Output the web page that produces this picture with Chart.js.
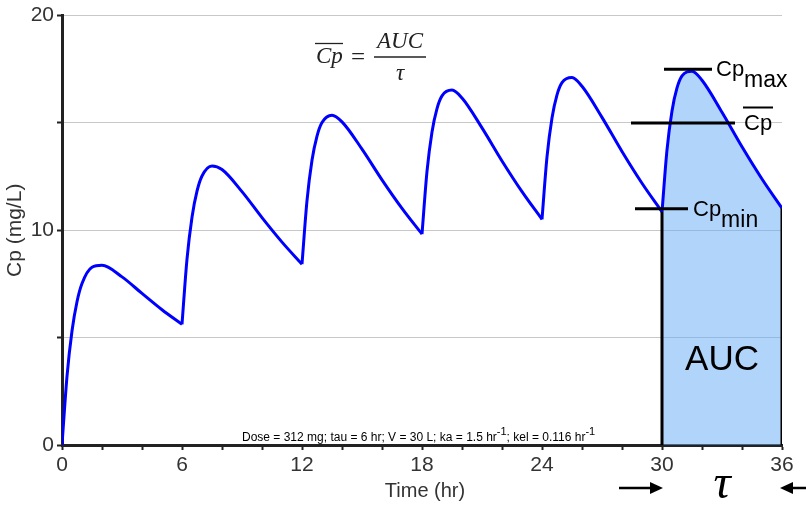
<!DOCTYPE html>
<html>
<head>
<meta charset="utf-8">
<script src="https://cdn.jsdelivr.net/npm/chart.js@4.4.1/dist/chart.umd.min.js"></script>
<style>
  html, body { margin: 0; padding: 0; background: #fff; }
  #wrap { width: 806px; height: 519px; }
</style>
</head>
<body>
<div id="wrap"><canvas id="cpChart" width="806" height="519"></canvas></div>
<script>
// DATA
const doseTimes = [0, 6, 12, 18, 24, 30];
const hoursAfterDose = [0, 0.25, 0.5, 0.75, 1, 1.5, 2, 3, 4, 5, 6];
const cpDose1 = [0, 3.20, 5.31, 6.67, 7.52, 8.28, 8.37, 7.83, 7.06, 6.30, 5.62];
const cpDose2 = [5.62, 8.66, 10.61, 11.82, 12.53, 13.00, 12.83, 11.80, 10.59, 9.45, 8.42];
const cpDose3 = [8.42, 11.38, 13.26, 14.39, 15.02, 15.36, 15.05, 13.78, 12.35, 11.02, 9.82];
const cpDose4 = [9.82, 12.74, 14.58, 15.67, 16.26, 16.53, 16.16, 14.77, 13.23, 11.80, 10.51];
const cpDose5 = [10.51, 13.42, 15.23, 16.31, 16.88, 17.12, 16.71, 15.26, 13.67, 12.19, 10.86];
const cpDose6 = [10.86, 13.75, 15.56, 16.63, 17.19, 17.41, 16.99, 15.50, 13.89, 12.39, 11.03];
const cpMax = 17.5;
const cpAvg = 15.0;
const cpMin = 11.0;
const xTickLabels = [0, 6, 12, 18, 24, 30, 36];
const yTickLabels = [0, 10, 20];

const FONT = "'Liberation Sans', Arial, Helvetica, sans-serif";
const SERIF = "'Liberation Serif', 'Times New Roman', serif";

const allDoses = [cpDose1, cpDose2, cpDose3, cpDose4, cpDose5, cpDose6];
const lastDose = doseTimes[doseTimes.length - 1];
const tau = doseTimes[1] - doseTimes[0];

function points(start, values) {
    return values.map((v, i) => ({ x: start + hoursAfterDose[i], y: v }));
}

const datasets = [];

// reference lines (black)
function blackLine(data) {
    return { data: data, borderColor: "#000", borderWidth: 3, tension: 0, order: 0, fill: false };
}
datasets.push(blackLine([{ x: lastDose, y: 0 }, { x: lastDose, y: cpDose6[0] }]));
datasets.push(blackLine([{ x: lastDose + tau, y: 0 }, { x: lastDose + tau, y: cpDose6[cpDose6.length - 1] }]));
datasets.push(blackLine([{ x: 30.1, y: cpMax }, { x: 32.5, y: cpMax }]));
datasets.push(blackLine([{ x: 28.45, y: cpAvg }, { x: 33.65, y: cpAvg }]));
datasets.push(blackLine([{ x: 28.65, y: cpMin }, { x: 31.3, y: cpMin }]));

// concentration curve, one piece per dosing interval
allDoses.forEach((vals, i) => {
    const isLast = i === allDoses.length - 1;
    datasets.push({
        data: points(doseTimes[i], vals),
        borderColor: "#0000ff",
        borderWidth: 3,
        cubicInterpolationMode: "monotone",
        fill: isLast ? "origin" : false,
        backgroundColor: "rgba(100, 170, 245, 0.5)",
        order: 1
    });
});

// text helpers
function runs(ctx, x, y, parts, size, supSize) {
    let cx = x;
    parts.forEach(p => {
        if (p.sup) {
            ctx.font = supSize + "px " + FONT;
            ctx.fillText(p.t, cx, y - size * 0.5);
        } else if (p.sub) {
            ctx.font = supSize + "px " + FONT;
            ctx.fillText(p.t, cx, y + size * 0.5);
        } else {
            ctx.font = size + "px " + FONT;
            ctx.fillText(p.t, cx, y);
        }
        cx += ctx.measureText(p.t).width;
    });
}

function hline(ctx, x1, x2, y, w) {
    ctx.beginPath();
    ctx.lineWidth = w;
    ctx.moveTo(x1, y);
    ctx.lineTo(x2, y);
    ctx.stroke();
}

const notesPlugin = {
    id: "notes",
    afterDraw(chart) {
        const c = chart.ctx;
        const sx = chart.scales.x;
        const sy = chart.scales.y;
        c.save();
        c.textBaseline = "alphabetic";
        c.textAlign = "left";

        // axis titles
        c.fillStyle = "#333";
        c.font = "20px " + FONT;
        c.textAlign = "center";
        c.fillText("Time (hr)", (sx.left + sx.right) / 2 + 3, 497);
        c.save();
        c.translate(21, (sy.top + sy.bottom) / 2);
        c.rotate(-Math.PI / 2);
        c.font = "21px " + FONT;
        c.fillText("Cp (mg/L)", 0, 0);
        c.restore();

        // formula  Cp-bar = AUC / tau
        c.fillStyle = "#222";
        c.strokeStyle = "#222";
        c.textAlign = "left";
        c.font = "italic 23px " + SERIF;
        c.fillText("Cp", 316, 63);
        hline(c, 315, 343, 43.5, 1.3);
        c.font = "25px " + SERIF;
        c.fillText("=", 351, 65);
        hline(c, 374, 426, 57, 1.3);
        c.textAlign = "center";
        c.font = "italic 23px " + SERIF;
        c.fillText("AUC", 400, 48);
        c.fillText("\u03c4", 400, 80);

        // Cp labels
        c.fillStyle = "#000";
        c.strokeStyle = "#000";
        c.textAlign = "left";
        runs(c, 716, 76, [{ t: "Cp" }, { t: "max", sub: true }], 22, 23);
        runs(c, 744, 130, [{ t: "Cp" }], 22, 22);
        hline(c, 743, 773, 107.5, 2);
        runs(c, 693, 216, [{ t: "Cp" }, { t: "min", sub: true }], 22, 23);

        // AUC
        c.textAlign = "center";
        c.font = "35px " + FONT;
        c.fillText("AUC", sx.getPixelForValue(lastDose + tau / 2), 370);

        // tau with arrows
        c.font = "italic 48px " + SERIF;
        c.fillText("\u03c4", 722, 498);
        const ay = 488;
        hline(c, 619, 652, ay, 2.5);
        c.beginPath();
        c.moveTo(663, ay);
        c.lineTo(650, ay - 6);
        c.lineTo(650, ay + 6);
        c.closePath();
        c.fill();
        hline(c, 792, 806, ay, 2.5);
        c.beginPath();
        c.moveTo(780, ay);
        c.lineTo(793, ay - 6);
        c.lineTo(793, ay + 6);
        c.closePath();
        c.fill();

        // dosing text
        c.textAlign = "left";
        runs(c, 242, 441, [
            { t: "Dose = 312 mg; tau = 6 hr; V = 30 L; ka = 1.5 hr" },
            { t: "-1", sup: true },
            { t: "; kel = 0.116 hr" },
            { t: "-1", sup: true }
        ], 12, 11);

        c.restore();
    }
};

document.addEventListener("DOMContentLoaded", function () {
    const ctx = document.getElementById("cpChart").getContext("2d");

    new Chart(ctx, {
        type: "line",
        data: { datasets: datasets },
        plugins: [notesPlugin],
        options: {
            responsive: false,
            animation: false,
            layout: { padding: { top: 15, right: 24, left: 0, bottom: 0 } },
            elements: { point: { radius: 0 }, line: { borderCapStyle: "butt" } },
            plugins: {
                legend: { display: false },
                tooltip: { enabled: false }
            },
            scales: {
                x: {
                    type: "linear",
                    min: 0,
                    max: 36,
                    afterFit: s => { s.height = 74; },
                    ticks: {
                        stepSize: 2,
                        autoSkip: false,
                        maxRotation: 0,
                        padding: 3,
                        color: "#333",
                        font: { family: FONT, size: 21 },
                        callback: v => xTickLabels.includes(v) ? String(v) : ""
                    },
                    grid: {
                        drawOnChartArea: false,
                        tickLength: 5,
                        tickWidth: 2,
                        tickColor: "#222"
                    },
                    border: { color: "#222", width: 3 }
                },
                y: {
                    min: 0,
                    max: 20,
                    afterFit: s => { s.width = 62; },
                    ticks: {
                        stepSize: 5,
                        autoSkip: false,
                        padding: 3,
                        color: "#333",
                        font: { family: FONT, size: 21 },
                        callback: v => yTickLabels.includes(v) ? String(v) : ""
                    },
                    grid: {
                        color: "#c8c8c8",
                        lineWidth: 1,
                        tickLength: 5,
                        tickWidth: 2,
                        tickColor: "#222"
                    },
                    border: { color: "#222", width: 3 }
                }
            }
        }
    });
});
</script>
</body>
</html>
